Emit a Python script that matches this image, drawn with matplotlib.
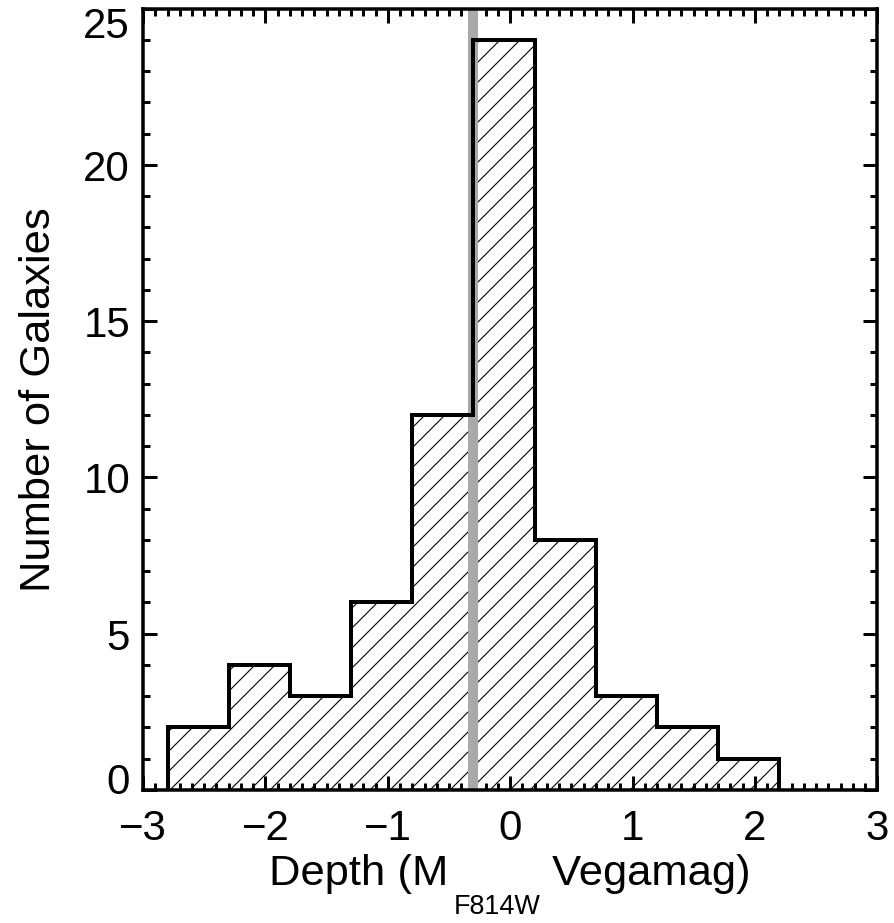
import numpy as np
import matplotlib
matplotlib.use('Agg')
import matplotlib.pyplot as plt
from matplotlib.ticker import MultipleLocator
from matplotlib.transforms import ScaledTranslation, IdentityTransform

# lower dpi -> tighter hatch spacing (hatch tile is one inch)
DPI = 60
W, H = 894, 923


def px(v):
    # pixels -> points at this dpi
    return v * 72.0 / DPI


# histogram of survey depth
bin_edges = [-2.8, -2.3, -1.8, -1.3, -0.8, -0.3, 0.2, 0.7, 1.2, 1.7, 2.2]
counts = [2, 4, 3, 6, 12, 24, 8, 3, 2, 1]
depth_limit = -0.3
x_range = (-3, 3)
y_range = (0, 25)

FS = px(42)      # tick labels
LFS = px(43.5)   # axis titles

plt.rcParams['font.family'] = ['Liberation Sans', 'DejaVu Sans']
plt.rcParams['hatch.color'] = 'black'
plt.rcParams['hatch.linewidth'] = px(1.1)

fig = plt.figure(figsize=((W + 0.3) / DPI, (H + 0.3) / DPI), dpi=DPI)
ax = fig.add_axes([143 / W, 1 - 790 / H, (877 - 143) / W, (790 - 9) / H])

# hatched fill, then the grey line, then the black outline on top
ax.stairs(counts, bin_edges, fill=True, facecolor='none', edgecolor='black',
          hatch='/', linewidth=0, zorder=1)
ax.axvline(depth_limit, color='#a9a9a9', lw=px(10), zorder=2)
ax.stairs(counts, bin_edges, baseline=0, fill=False, edgecolor='black',
          lw=px(4), joinstyle='miter', zorder=3)

ax.set_xlim(*x_range)
ax.set_ylim(*y_range)
ax.xaxis.set_major_locator(MultipleLocator(1))
ax.xaxis.set_minor_locator(MultipleLocator(0.1))
ax.yaxis.set_major_locator(MultipleLocator(5))
ax.yaxis.set_minor_locator(MultipleLocator(1))

for s in ax.spines.values():
    s.set_linewidth(px(3.5))
    s.set_zorder(4)

ax.tick_params(which='both', direction='in', top=True, right=True,
               width=px(3), labelsize=FS, color='black')
ax.tick_params(which='major', length=px(14))
ax.tick_params(which='minor', length=px(7))
ax.tick_params(axis='x', which='major', pad=px(19))
ax.tick_params(axis='y', which='major', pad=px(13))

ax.set_ylabel('Number of Galaxies', fontsize=LFS)
ax.yaxis.set_label_coords(-0.114, 0.5)

# nudge the end labels on y inward like the original
ylocs = ax.yaxis.get_majorticklocs()
yticks = ax.yaxis.get_major_ticks(len(ylocs))
for loc, tk in zip(ylocs, yticks):
    lab = tk.label1
    if abs(loc - y_range[0]) < 1e-6:
        lab.set_transform(lab.get_transform() + ScaledTranslation(0, 12 / DPI, fig.dpi_scale_trans))
    elif abs(loc - y_range[1]) < 1e-6:
        lab.set_transform(lab.get_transform() + ScaledTranslation(0, -13 / DPI, fig.dpi_scale_trans))

# x label with a low IDL-style subscript, built from three pieces
renderer = fig.canvas.get_renderer()
base_y = H - 885
sub_y = H - 914
t1 = fig.text(0, base_y, 'Depth (M', fontsize=LFS, va='baseline', ha='left',
              transform=IdentityTransform())
t2 = fig.text(0, sub_y, 'F814W', fontsize=LFS * 0.62, va='baseline', ha='left',
              transform=IdentityTransform())
t3 = fig.text(0, base_y, ' Vegamag)', fontsize=LFS, va='baseline', ha='left',
              transform=IdentityTransform())
w1 = t1.get_window_extent(renderer).width
w2 = t2.get_window_extent(renderer).width
w3 = t3.get_window_extent(renderer).width
gap = 5
total = w1 + gap + w2 + w3
pos = ax.get_position()
cx = (pos.x0 + pos.x1) / 2 * W
x0 = cx - total / 2
t1.set_x(x0)
t2.set_x(x0 + w1 + gap)
t3.set_x(x0 + w1 + gap + w2)

fig.savefig('out.png', dpi=DPI)
